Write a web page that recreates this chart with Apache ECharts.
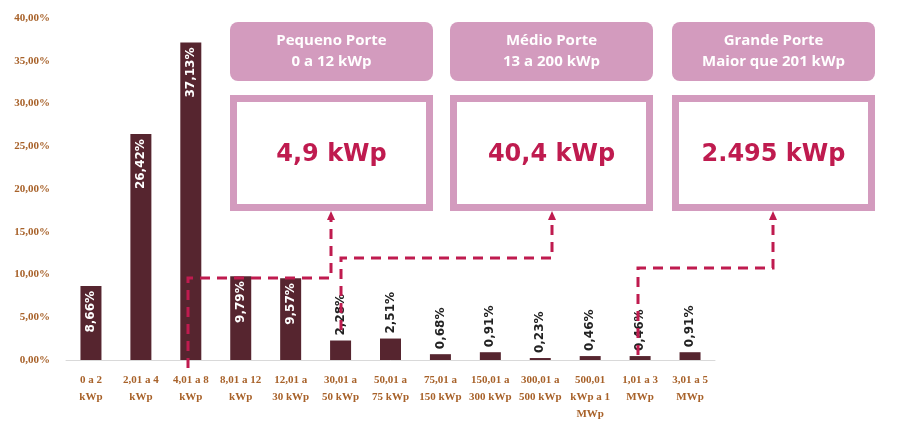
<!DOCTYPE html>
<html><head><meta charset="utf-8">
<script src="https://cdn.jsdelivr.net/npm/echarts@6/dist/echarts.min.js"></script>
<style>body{margin:0;background:#fff}#c{width:920px;height:423px}</style>
</head><body><div id="c"></div>
<script>
// faixas de potência
var categories = ['0 a 2\nkWp', '2,01 a 4\nkWp', '4,01 a 8\nkWp', '8,01 a 12\nkWp', '12,01 a\n30 kWp', '30,01 a\n50 kWp', '50,01 a\n75 kWp', '75,01 a\n150 kWp', '150,01 a\n300 kWp', '300,01 a\n500 kWp', '500,01\nkWp a 1\nMWp', '1,01 a 3\nMWp', '3,01 a 5\nMWp'];
var values = [8.66, 26.42, 37.13, 9.79, 9.57, 2.28, 2.51, 0.68, 0.91, 0.23, 0.46, 0.46, 0.91];
var boxTitles = [['Pequeno Porte', '0 a 12 kWp'], ['Médio Porte', '13 a 200 kWp'], ['Grande Porte', 'Maior que 201 kWp']];
var boxValues = ['4,9 kWp', '40,4 kWp', '2.495 kWp'];

var fmt = function (v) { return v.toFixed(2).replace('.', ',') + '%'; };
var pink = '#d39bbe', red = '#bf1b4f';

var chart = echarts.init(document.getElementById('c'));

var graphics = [];
var boxX = [230, 450, 672], boxW = 203;
boxTitles.forEach(function (t, i) {
    graphics.push({ type: 'rect', shape: { x: boxX[i], y: 22, width: boxW, height: 59, r: 8 }, style: { fill: pink } });
    graphics.push({ type: 'text', x: boxX[i] + boxW / 2, y: 51, style: { text: t[0] + '\n' + t[1], fill: '#fff', font: 'bold 15px "Open Sans"', align: 'center', verticalAlign: 'middle', lineHeight: 21 } });
    graphics.push({ type: 'rect', shape: { x: boxX[i] + 3.5, y: 98.5, width: boxW - 7, height: 109 }, style: { fill: '#fff', stroke: pink, lineWidth: 7 } });
    graphics.push({ type: 'text', x: boxX[i] + boxW / 2, y: 155, style: { text: boxValues[i], fill: red, font: 'bold 24px "DejaVu Sans"', align: 'center', verticalAlign: 'middle' } });
});
var dash = { stroke: red, lineWidth: 3, lineDash: [10, 7], fill: null };
[[[188, 368], [188, 278], [331, 278], [331, 218]],
 [[341, 330], [341, 258], [552, 258], [552, 218]],
 [[638, 355], [638, 268], [773, 268], [773, 218]]].forEach(function (p) {
    graphics.push({ type: 'polyline', z: 100, shape: { points: p }, style: dash });
    var x = p[3][0];
    graphics.push({ type: 'polygon', z: 100, shape: { points: [[x - 4, 220], [x + 4, 220], [x, 211]] }, style: { fill: red } });
});

chart.setOption({
    animation: false,
    grid: { left: 66, right: 205, top: 18, bottom: 55 },
    xAxis: {
        type: 'category',
        data: categories,
        axisTick: { show: false },
        axisLine: { lineStyle: { color: '#d9d9d9' } },
        axisLabel: { interval: 0, color: '#a8622a', fontSize: 11, fontWeight: 'bold', fontFamily: 'Liberation Sans Narrow', lineHeight: 17, margin: 12 }
    },
    yAxis: {
        type: 'value',
        min: 0, max: 40, interval: 5,
        splitLine: { show: false },
        axisLabel: { color: '#a8622a', fontSize: 11, fontWeight: 'bold', fontFamily: 'Liberation Sans Narrow', formatter: fmt, margin: 16 }
    },
    series: [{
        type: 'bar',
        barWidth: 21,
        itemStyle: { color: '#56252f' },
        data: values.map(function (v) {
            var inside = v > 5;
            return {
                value: v,
                label: {
                    show: true, rotate: 90, formatter: fmt(v),
                    position: inside ? 'insideTop' : 'top',
                    align: inside ? 'right' : 'left',
                    verticalAlign: 'middle',
                    distance: 5,
                    color: inside ? '#fff' : '#222',
                    fontWeight: 'bold', fontSize: 12, fontFamily: 'DejaVu Sans'
                }
            };
        })
    }],
    graphic: graphics
});
</script></body></html>
